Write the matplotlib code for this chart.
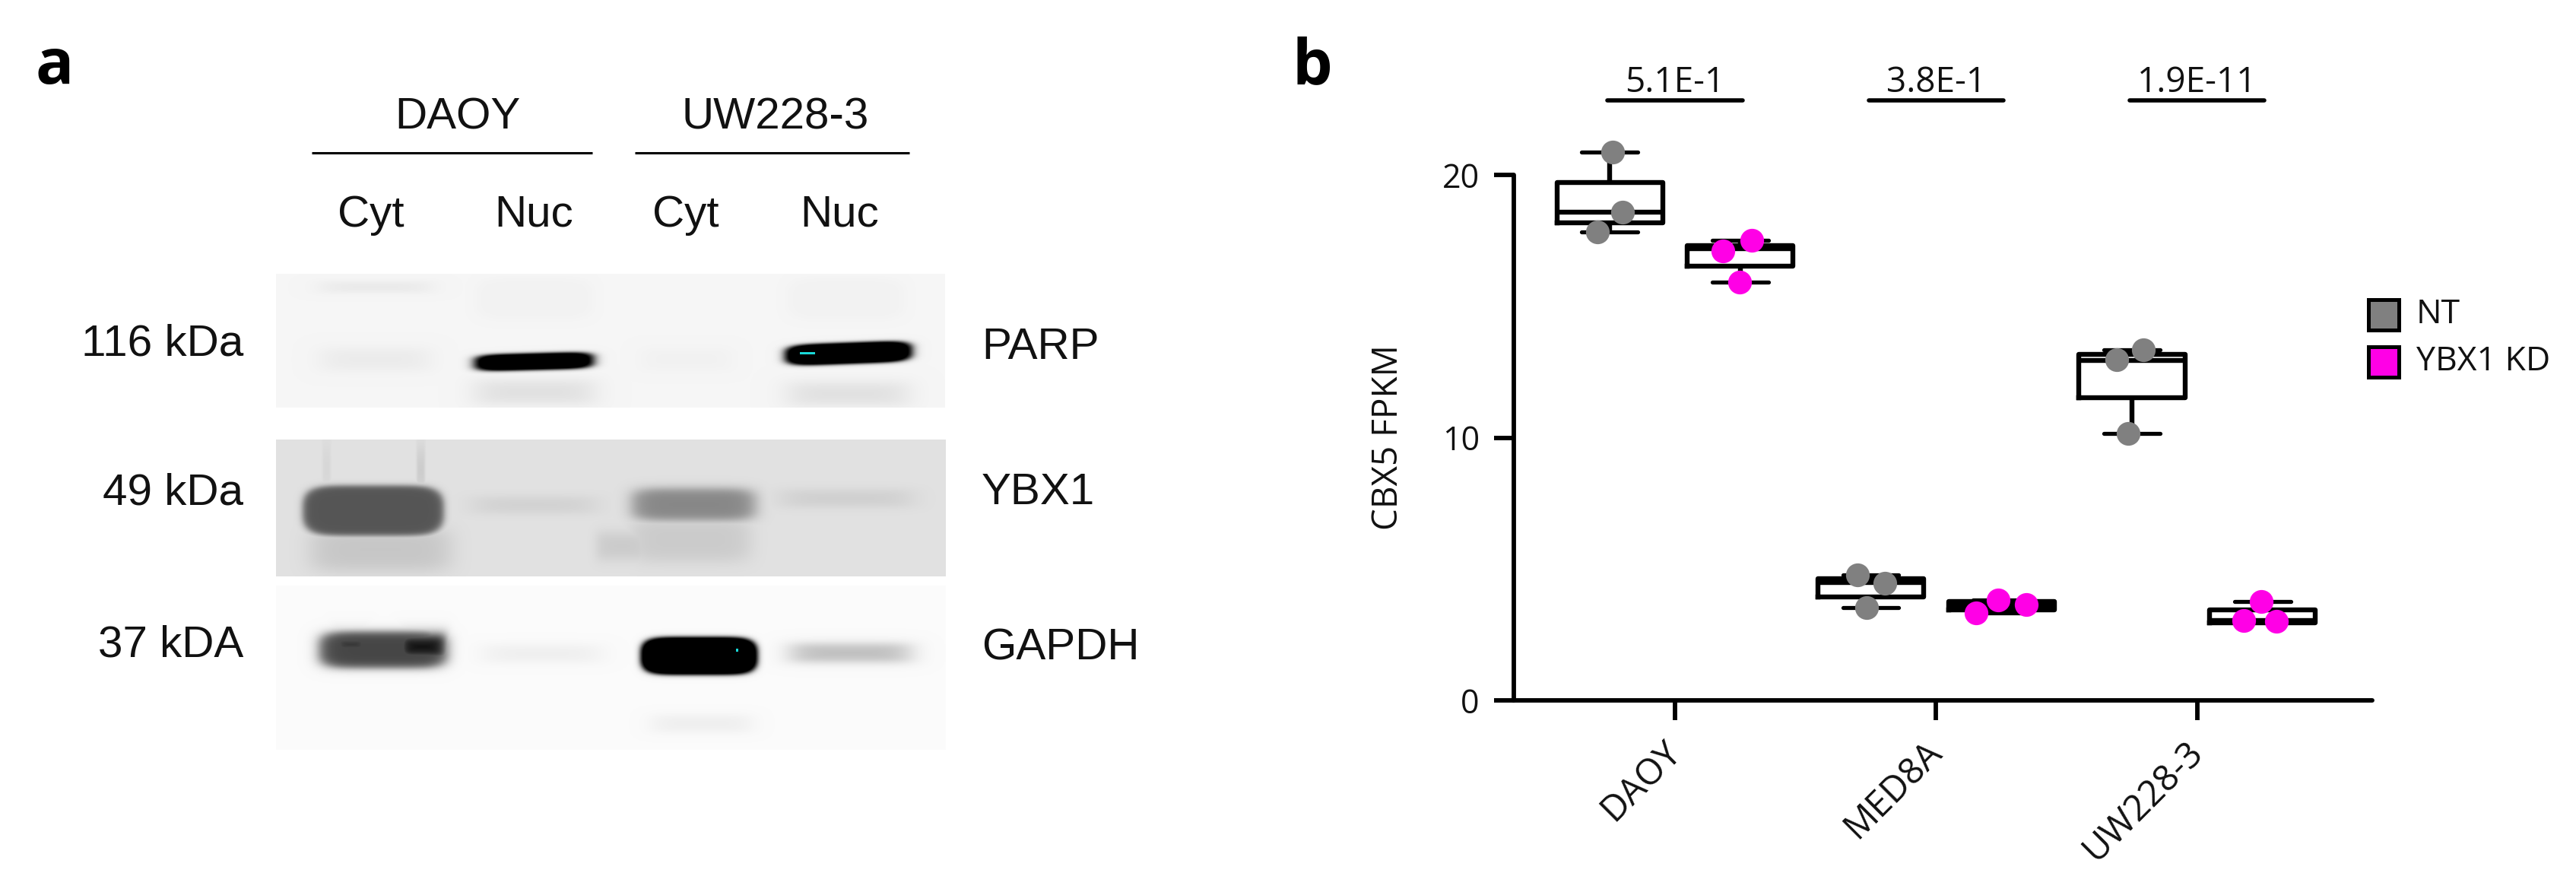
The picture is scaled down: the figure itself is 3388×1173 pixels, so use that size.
import numpy as np
import matplotlib
matplotlib.use("Agg")
import matplotlib.pyplot as plt
from matplotlib.patches import Rectangle

W, H = 3388, 1173

# ---- panel b data -------------------------------------------------
cell_lines = ["DAOY", "MED8A", "UW228-3"]
groups = ["NT", "YBX1 KD"]
group_colors = ["#808080", "#ff00e6"]
pvalues = ["5.1E-1", "3.8E-1", "1.9E-11"]
yticks = [0, 10, 20]

q1 = [[18.19, 3.95, 11.52], [16.53, 3.45, 2.96]]
median = [[18.59, 4.48, 12.94], [17.19, 3.60, 3.04]]
q3 = [[19.70, 4.62, 13.18], [17.31, 3.77, 3.45]]
whis_lo = [[17.84, 3.54, 10.16], [15.93, 3.33, 3.00]]
whis_hi = [[20.86, 4.77, 13.35], [17.50, 3.81, 3.75]]

pts_nt = [[20.86, 18.59, 17.82], [4.77, 4.45, 3.54], [13.35, 12.98, 10.16]]
pts_kd = [[17.50, 17.10, 15.93], [3.81, 3.65, 3.33], [3.75, 3.04, 3.00]]
pts_nt_x = [[-0.239, -0.200, -0.297], [-0.302, -0.195, -0.265], [-0.207, -0.309, -0.265]]
pts_kd_x = [[0.294, 0.183, 0.247], [0.239, 0.345, 0.152], [0.246, 0.178, 0.303]]

# ---- panel a data: bands (x0, x1, y0, y1, darkness, tilt, softness) in pixels ----
parp_bands = [
    (624, 780, 464, 486, 1.25, -2, 2.5),
    (1032, 1199, 450, 478, 1.25, -3, 2.5),
    (628, 778, 500, 530, 0.09, 0, 10),
    (1040, 1190, 503, 532, 0.09, 0, 10),
    (425, 562, 458, 486, 0.045, 0, 9),
    (425, 562, 370, 384, 0.05, 0, 5),
    (845, 960, 458, 486, 0.02, 0, 9),
    (625, 780, 365, 420, 0.015, 0, 6),
    (1035, 1190, 365, 420, 0.015, 0, 6),
]
ybx1_bands = [
    (398, 583, 638, 704, 0.62, 0, 4),
    (832, 992, 642, 684, 0.40, 0, 7),
    (830, 985, 680, 738, 0.10, 0, 12),
    (410, 590, 695, 750, 0.12, 0, 12),
    (785, 850, 700, 735, 0.10, 0, 10),
    (625, 780, 653, 674, 0.07, 0, 7),
    (1030, 1195, 644, 666, 0.08, 0, 7),
    (424, 434, 585, 645, 0.05, 0, 4),
    (548, 558, 590, 645, 0.10, 0, 4),
]
gapdh_bands = [
    (420, 587, 830, 878, 0.72, 0, 6),
    (525, 585, 834, 866, 0.95, 0, 9),
    (438, 485, 834, 860, 0.82, 0, 9),
    (842, 996, 837, 887, 1.25, 0, 3),
    (1042, 1194, 846, 870, 0.24, 0, 7),
    (640, 785, 848, 870, 0.05, 0, 8),
    (860, 985, 940, 962, 0.05, 0, 7),
]
blot_boxes = [(363, 1243, 360, 536), (363, 1244, 578, 758), (363, 1244, 770, 986)]
blot_background = [0.965, 0.885, 0.985]
blot_bands = [parp_bands, ybx1_bands, gapdh_bands]
# cyan saturation marks on the black bands
specks = [(1052, 1072, 463, 466), (968, 971, 853, 857)]

size_labels = ["116 kDa", "49 kDa", "37 kDA"]
size_y = [452, 648, 849]
protein_labels = ["PARP", "YBX1", "GAPDH"]
protein_y = [457, 648, 852]
lane_labels = ["Cyt", "Nuc", "Cyt", "Nuc"]
lane_x = [488, 702, 902, 1104]
header_labels = ["DAOY", "UW228-3"]
header_x = [602, 1020]
header_lines = [(410, 779), (835, 1196)]

plt.rcParams["font.family"] = ["Open Sans", "DejaVu Sans"]
fig = plt.figure(figsize=(W / 100, H / 100), dpi=100, facecolor="white")

ov = fig.add_axes([0, 0, 1, 1], zorder=5)
ov.axis("off")
ov.patch.set_alpha(0)


def blot_image(box, bg, bands):
    x0, x1, y0, y1 = box
    xx, yy = np.meshgrid(np.arange(x0, x1), np.arange(y0, y1))
    dark = np.zeros_like(xx, dtype=float)
    for bx0, bx1, by0, by1, d, tilt, s in bands:
        cx, cy = (bx0 + bx1) / 2, (by0 + by1) / 2
        a, b = (bx1 - bx0) / 2, (by1 - by0) / 2
        shift = tilt * (xx - cx) / max(a, 1)
        r = ((np.abs(xx - cx) / a) ** 6 + (np.abs(yy - shift - cy) / b) ** 3) ** (1 / 3)
        f = 0.5 * (1 - np.tanh((r - 1) * min(a, b) / s))
        dark = np.maximum(dark, d * f)
    return bg * (1 - np.clip(dark, 0, 1))


for box, bg, bands in zip(blot_boxes, blot_background, blot_bands):
    img = blot_image(box, bg, bands)
    rgb = np.dstack([img, img, img])
    for sx0, sx1, sy0, sy1 in specks:
        if box[0] <= sx0 < box[1] and box[2] <= sy0 < box[3]:
            rgb[sy0 - box[2]:sy1 - box[2], sx0 - box[0]:sx1 - box[0]] = (0.1, 0.85, 0.85)
    ov.imshow(rgb, extent=(box[0], box[1], box[3], box[2]), aspect="auto", zorder=1,
              interpolation="bilinear")
ov.set_xlim(0, W)
ov.set_ylim(H, 0)

arial = ["Liberation Sans", "DejaVu Sans"]
for lab, x in zip(header_labels, header_x):
    ov.text(x, 155, lab, family=arial, fontsize=42, ha="center", va="center", color="#111111")
for a, b in header_lines:
    ov.plot([a, b], [201, 201], color="black", lw=2.2, solid_capstyle="butt")
for lab, x in zip(lane_labels, lane_x):
    ov.text(x, 298, lab, family=arial, fontsize=42, ha="center", va="baseline", color="#111111")
for lab, y in zip(size_labels, size_y):
    ov.text(320, y, lab, family=arial, fontsize=42, ha="right", va="center", color="#111111")
for lab, y in zip(protein_labels, protein_y):
    ov.text(1291, y, lab, family=arial, fontsize=42, ha="left", va="center", color="#111111")

ov.text(46, 110, "a", family="Open Sans", fontweight="bold", fontsize=60, ha="left", va="baseline", color="black")
ov.text(1700, 110, "b", family="Open Sans", fontweight="bold", fontsize=60, ha="left", va="baseline", color="black")

# ---- panel b -------------------------------------------------------
ax = fig.add_axes([1991 / W, 1 - 921 / H, (3120 - 1991) / W, (921 - 230) / H], zorder=3)
ax.patch.set_alpha(0)
ax.set_xlim(-0.617, 2.67)
ax.set_ylim(0, 20)

offsets = [-0.25, 0.25]
lw = 4.6
for g in range(2):
    stats = [dict(med=median[g][i], q1=q1[g][i], q3=q3[g][i], whislo=whis_lo[g][i], whishi=whis_hi[g][i])
             for i in range(3)]
    ax.bxp(stats, positions=[i + offsets[g] for i in range(3)], widths=0.405, capwidths=0.215,
           showfliers=False, manage_ticks=False,
           boxprops=dict(color="black", lw=lw, solid_joinstyle="round", clip_on=False),
           medianprops=dict(color="black", lw=lw, solid_capstyle="butt", clip_on=False),
           whiskerprops=dict(color="black", lw=lw, solid_capstyle="butt", clip_on=False),
           capprops=dict(color="black", lw=lw - 0.8, solid_capstyle="round", clip_on=False),
           zorder=3)

for i in range(3):
    ax.scatter([i + d for d in pts_nt_x[i]], pts_nt[i], s=22.5 ** 2, color=group_colors[0],
               linewidths=0, zorder=5, clip_on=False)
    ax.scatter([i + d for d in pts_kd_x[i]], pts_kd[i], s=22.5 ** 2, color=group_colors[1],
               linewidths=0, zorder=5, clip_on=False)
    ax.plot([i - 0.258, i + 0.258], [22.84, 22.84], color="black", lw=4, solid_capstyle="round", clip_on=False)
    ax.text(i, 23.15, pvalues[i], fontsize=33, ha="center", va="baseline", color="#111111", clip_on=False)

for s in ("top", "right"):
    ax.spines[s].set_visible(False)
for s in ("left", "bottom"):
    ax.spines[s].set_linewidth(4.2)
    ax.spines[s].set_capstyle("round")
ax.set_yticks(yticks)
ax.set_xticks(range(3))
ax.set_xticklabels([])
ax.tick_params(axis="y", length=18.5, width=4.2, labelsize=31, pad=14, labelcolor="#111111")
ax.tick_params(axis="x", length=18.5, width=4.2)

for i, lab in enumerate(cell_lines):
    ax.annotate(lab, xy=(i, 0), xycoords=("data", "axes fraction"), xytext=(-12, -32), textcoords="offset points",
                rotation=45, rotation_mode="anchor", ha="right", va="top", fontsize=34, color="#111111",
                annotation_clip=False)

ov.text(1826, 575, "CBX5 FPKM", fontsize=33, rotation=90, ha="center", va="center", color="#111111")

# legend
for y0, col, lab, ty in zip([394, 456], group_colors, groups, [414, 476]):
    ov.add_patch(Rectangle((3115, y0), 40, 40, facecolor=col, edgecolor="black", lw=3.6, zorder=2))
    ov.text(3178, ty, lab, fontsize=32, ha="left", va="center", color="#111111")

fig.savefig("out.png", dpi=100)
